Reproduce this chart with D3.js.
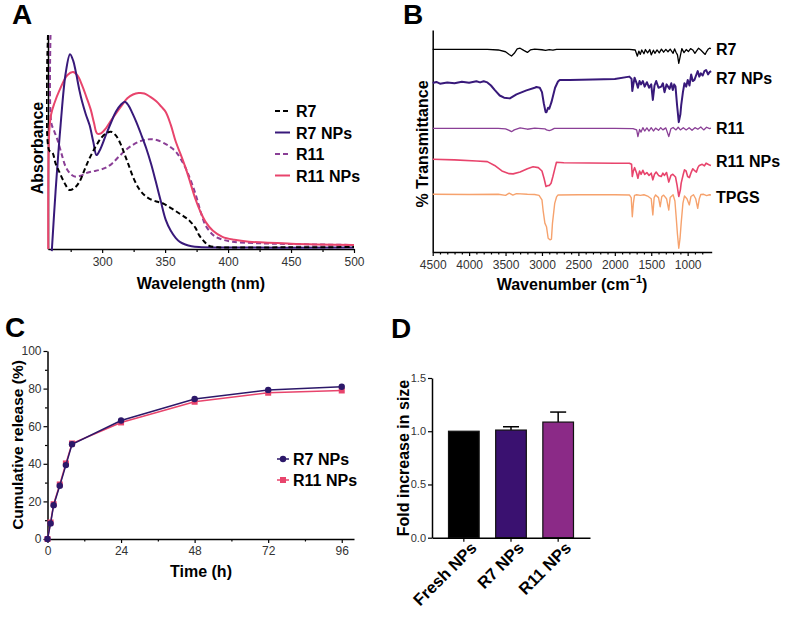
<!DOCTYPE html>
<html>
<head>
<meta charset="utf-8">
<script src="https://cdn.jsdelivr.net/npm/d3@7"></script>
<style>
  body { margin: 0; background: #fff; }
  svg { display: block; font-family: 'Liberation Sans', Arial, sans-serif; }
</style>
</head>
<body>
<div id="chart"></div>
<script>
"use strict"

// ---- A: UV-Vis absorbance, [wavelength nm, normalised absorbance]
var uvR7 = [[257,1.0],[258,0.46],[260.6,0.45],[263,0.40],[266,0.36],[270,0.31],[274,0.276],[278,0.285],
  [282,0.314],[286,0.37],[290,0.424],[295,0.48],[299,0.517],[303,0.54],[307,0.548],[311,0.53],[315,0.486],
  [318,0.44],[321,0.393],[325,0.33],[329,0.284],[333,0.255],[337,0.237],[343,0.222],[348,0.214],[355,0.19],
  [361,0.167],[366,0.148],[370,0.128],[374,0.1],[377,0.065],[381,0.035],[385,0.015],[392,0.008],[400,0.007],
  [450,0.008],[500,0.009]];
var uvR7NPs = [[260,-0.01],[263,0.268],[267,0.579],[271,0.82],[274.5,0.91],[277,0.88],[279,0.83],[282,0.74],
  [284,0.69],[287,0.63],[290,0.579],[293,0.5],[295.5,0.439],[298,0.46],[303,0.533],[307,0.59],[311,0.642],
  [315,0.675],[318,0.688],[321,0.67],[324,0.635],[327,0.595],[331,0.535],[335,0.471],[339,0.395],[342.6,0.315],
  [346.5,0.225],[350.5,0.136],[354.5,0.085],[358.5,0.051],[362,0.032],[366,0.021],[371,0.013],[377,0.009],
  [390,0.007],[500,0.007]];
var uvR11 = [[259,1.0],[259.6,0.59],[262,0.55],[264.6,0.509],[268,0.44],[271,0.385],[275,0.35],[279,0.338],
  [283,0.342],[287,0.354],[292,0.362],[297.6,0.369],[303,0.38],[308,0.4],[313,0.43],[318.8,0.463],[324,0.485],
  [329,0.501],[334,0.51],[338.6,0.513],[344,0.508],[350.5,0.49],[354.5,0.475],[358.5,0.455],[362.5,0.42],
  [366.4,0.377],[369,0.34],[371.7,0.299],[374.5,0.25],[377,0.198],[379.5,0.15],[382,0.112],[386,0.078],
  [390,0.057],[396,0.043],[403.5,0.034],[420,0.028],[450,0.023],[500,0.019]];
var uvR11NPs = [[257.2,0.0],[258,0.55],[259.5,0.63],[262,0.68],[266,0.74],[272.5,0.813],[277,0.827],
  [280.5,0.81],[284,0.766],[287.5,0.71],[291,0.65],[293.5,0.59],[296,0.54],[299,0.54],[303,0.564],[307,0.6],
  [311,0.634],[315.5,0.67],[320,0.704],[324.5,0.722],[329,0.729],[333.5,0.727],[338,0.712],[343,0.69],
  [347,0.665],[350.5,0.64],[354.5,0.58],[358.5,0.501],[362.5,0.44],[366.4,0.377],[370,0.31],[374,0.235],
  [378,0.175],[382,0.128],[388,0.085],[395.5,0.057],[405,0.043],[416.6,0.034],[450,0.025],[500,0.019]];
var uvNames = ["R7", "R7 NPs", "R11", "R11 NPs"];
var uvTicks = [300, 350, 400, 450, 500];

// ---- B: FTIR, [wavenumber cm-1, % transmittance (offset, a.u.)]
var ftirR7 = [[4500,91.3],[4000,91.3],[3750,91.3],[3600,91.0],[3500,90.2],[3450,89.0],[3418,88.3],[3380,89.5],
  [3340,91.5],[3300,91.8],[3250,90.8],[3200,89.9],[3160,91.0],[3100,91.4],[3000,91.1],[2950,90.8],[2900,91.2],
  [2850,90.9],[2800,91.3],[2000,91.3],[1800,91.3],[1720,91.0],[1690,88.2],[1670,90.5],[1650,89.0],[1630,91.0],
  [1600,89.3],[1580,91.2],[1550,89.7],[1520,91.2],[1500,88.8],[1470,90.9],[1450,89.5],[1420,91.0],[1390,89.7],
  [1360,91.4],[1330,90.0],[1300,91.3],[1270,90.2],[1240,91.4],[1200,89.5],[1180,91.5],[1160,90.0],[1140,88.8],
  [1122,85.0],[1100,88.5],[1080,91.6],[1050,89.8],[1020,91.2],[990,90.3],[960,91.6],[930,91.0],[900,89.5],
  [880,90.5],[850,91.8],[820,91.0],[790,90.0],[760,89.0],[740,90.3],[720,91.3],[700,91.8],[680,91.6]];
var ftirR7NPs = [[4500,76.1],[4450,76.6],[4400,75.8],[4300,76.4],[4200,76.0],[4100,76.7],[4000,76.2],
  [3900,76.9],[3850,76.4],[3800,76.9],[3750,76.4],[3700,75.0],[3650,73.0],[3580,70.5],[3520,69.5],[3441,69.2],
  [3350,71.0],[3213,72.8],[3100,74.0],[3076,74.3],[3030,74.0],[3000,72.0],[2975,67.0],[2950,63.0],[2938,63.0],
  [2915,65.0],[2900,64.5],[2870,67.5],[2850,70.0],[2820,74.0],[2780,76.8],[2756,77.5],[2619,77.5],[2300,77.7],
  [2000,77.9],[1800,79.0],[1770,78.0],[1760,72.5],[1745,75.5],[1729,78.5],[1700,76.0],[1683,74.0],[1660,77.0],
  [1640,75.5],[1615,77.0],[1590,74.5],[1560,76.5],[1530,74.0],[1500,75.5],[1478,68.5],[1455,75.0],[1432,77.0],
  [1400,74.0],[1363,74.5],[1340,76.0],[1318,72.0],[1290,75.5],[1249,73.5],[1225,76.0],[1204,73.0],[1185,75.5],
  [1167,74.5],[1145,66.0],[1122,58.5],[1100,62.0],[1089,66.0],[1065,72.0],[1044,76.0],[1020,74.5],[999,77.5],
  [975,75.0],[952,80.0],[930,77.0],[907,77.5],[885,79.5],[862,81.5],[840,79.0],[820,80.5],[793,79.5],
  [770,81.5],[747,82.0],[720,80.0],[700,81.0],[678,81.5]];
var ftirR11 = [[4500,55.7],[4000,55.7],[3600,55.7],[3500,55.5],[3450,54.8],[3418,54.2],[3380,55.0],[3300,55.9],
  [3200,55.3],[3100,55.8],[2960,55.5],[2938,55.0],[2900,54.7],[2870,55.0],[2830,55.7],[2000,55.7],[1750,55.6],
  [1700,55.0],[1683,52.0],[1660,55.2],[1640,54.0],[1615,56.0],[1590,54.5],[1560,55.9],[1530,54.5],[1500,56.0],
  [1470,54.5],[1440,55.8],[1400,54.8],[1370,56.0],[1340,55.0],[1300,55.9],[1259,52.0],[1230,55.5],[1200,56.1],
  [1160,55.0],[1130,56.2],[1100,55.0],[1060,56.0],[1020,55.0],[980,56.0],[940,54.8],[900,56.0],[860,55.3],
  [820,56.3],[780,55.0],[740,56.2],[700,55.6],[680,55.8]];
var ftirR11NPs = [[4500,41.8],[4200,41.5],[3900,41.0],[3750,40.7],[3650,39.0],[3550,36.5],[3450,35.3],
  [3396,35.2],[3300,36.0],[3200,37.5],[3122,38.4],[3050,38.0],[3000,36.5],[2970,33.0],[2945,29.5],[2920,29.9],
  [2900,30.0],[2875,31.0],[2850,34.0],[2820,38.0],[2801,40.4],[2700,40.2],[2000,40.0],[1800,40.0],[1770,39.5],
  [1760,34.0],[1745,36.5],[1729,38.0],[1700,35.5],[1683,33.2],[1660,36.5],[1640,35.0],[1615,36.8],[1590,35.0],
  [1560,35.8],[1530,34.5],[1500,35.5],[1478,32.5],[1455,35.0],[1432,36.0],[1400,34.5],[1363,34.0],[1340,35.5],
  [1318,34.5],[1290,35.8],[1259,31.5],[1230,34.5],[1204,35.0],[1167,33.8],[1145,30.0],[1122,25.0],[1100,28.0],
  [1089,31.0],[1060,35.0],[1044,37.0],[1022,36.5],[1000,34.0],[977,33.5],[950,36.0],[930,37.5],[900,36.5],
  [880,36.0],[860,38.0],[840,39.0],[800,39.5],[770,38.8],[747,40.0],[720,39.5],[700,39.2],[680,39.0]];
var ftirTPGS = [[4500,26.0],[4000,25.9],[3600,26.0],[3500,25.5],[3450,26.5],[3400,25.6],[3350,26.3],[3200,26.0],
  [3100,25.9],[3040,25.5],[3000,23.5],[2985,18.9],[2960,13.0],[2938,11.4],[2915,6.2],[2890,5.5],[2870,5.8],
  [2856,12.9],[2825,21.9],[2800,24.8],[2779,25.7],[2500,25.8],[2000,25.8],[1800,25.7],[1775,24.5],[1760,15.9],
  [1745,22.0],[1730,25.5],[1700,25.8],[1650,25.5],[1600,25.8],[1550,25.2],[1500,24.0],[1478,16.7],[1460,24.5],
  [1440,25.7],[1400,24.5],[1377,20.4],[1355,25.0],[1330,25.6],[1290,24.0],[1259,18.9],[1240,24.5],[1200,25.8],
  [1175,23.0],[1158,15.9],[1140,8.0],[1122,1.7],[1105,6.0],[1089,13.0],[1065,22.0],[1044,25.2],[1010,24.0],
  [977,21.2],[955,25.0],[920,25.8],[890,24.0],[862,19.7],[840,24.0],[820,25.9],[780,26.0],[740,25.4],
  [700,25.8],[680,25.7]];
var ftirNames = ["R7", "R7 NPs", "R11", "R11 NPs", "TPGS"];
var ftirTicks = [4500, 4000, 3500, 3000, 2500, 2000, 1500, 1000];

// ---- C: cumulative release
var releaseTime = [0, 1, 2, 4, 6, 8, 24, 48, 72, 96];
var releaseR7NPs = [0, 8.3, 18, 28.3, 39.3, 50.4, 63, 74.5, 79.3, 81];
var releaseR11NPs = [0, 8.8, 18.5, 29, 40.2, 50.8, 62, 73, 77.8, 79];
var releaseTimeTicks = [0, 24, 48, 72, 96];
var releaseYTicks = [0, 20, 40, 60, 80, 100];

// ---- D: fold increase in size
var sizeGroups = ["Fresh NPs", "R7 NPs", "R11 NPs"];
var sizeFold = [1.0, 1.011, 1.086];
var sizeErr = [0, 0.031, 0.094];
var sizeTicks = [0, 0.5, 1.0, 1.5];

var colR7 = "#000000", colR7NPs = "#38197a", colR11 = "#8a3f96", colR11NPs = "#e8446c", colTPGS = "#f6a26d";

var svg = d3.select("#chart").append("svg")
  .attr("width", 786)
  .attr("height", 618);

function styleAxis(g, size) {
  g.selectAll("path.domain").attr("stroke", "#000").attr("stroke-width", 1.5);
  g.selectAll(".tick line").attr("stroke", "#000").attr("stroke-width", 1.2);
  g.selectAll(".tick text")
    .style("font-family", "'Liberation Sans', Arial, sans-serif")
    .style("font-size", (size || 12) + "px")
    .attr("fill", "#333");
}

function boldText(x, y, txt, size, rotate, anchor) {
  var t = svg.append("text")
    .attr("transform", "translate(" + x + "," + y + ")" + (rotate ? " rotate(" + rotate + ")" : ""))
    .attr("text-anchor", anchor || "middle")
    .style("font-weight", "bold")
    .style("font-size", size + "px")
    .attr("fill", "#000")
    .text(txt);
  return t;
}

boldText(12, 24, "A", 28, 0, "start");
boldText(403, 24, "B", 28, 0, "start");
boldText(5, 337, "C", 28, 0, "start");
boldText(391, 338, "D", 28, 0, "start");

// ================= Panel A =================
(function () {
  var x = d3.scaleLinear().domain([257, 500]).range([48, 354]),
    y = d3.scaleLinear().domain([0, 1]).range([249, 35]);

  svg.append("clipPath").attr("id", "clipA")
    .append("rect").attr("x", 46).attr("y", 35).attr("width", 310).attr("height", 218);

  var gx = svg.append("g").attr("transform", "translate(0,249)")
    .call(d3.axisBottom(x).tickValues(uvTicks).tickSize(4).tickSizeOuter(0).tickPadding(4));
  styleAxis(gx);
  var gxm = svg.append("g").attr("transform", "translate(0,249)")
    .call(d3.axisBottom(x).tickValues(d3.range(275, 500, 50)).tickSize(3).tickFormat(""));
  gxm.select("path.domain").remove();
  styleAxis(gxm);

  var gy = svg.append("g").attr("transform", "translate(48,0)")
    .call(d3.axisLeft(y).tickValues([]).tickSizeOuter(0));
  styleAxis(gy);

  var line = d3.line()
    .x(function (d) { return x(d[0]); })
    .y(function (d) { return y(Math.min(d[1], 1.02)); })
    .curve(d3.curveCatmullRom.alpha(0.5));

  var series = [
    { data: uvR11, color: colR11, dash: "5,3" },
    { data: uvR11NPs, color: colR11NPs, dash: null },
    { data: uvR7NPs, color: colR7NPs, dash: null },
    { data: uvR7, color: colR7, dash: "5,3" }
  ];
  series.forEach(function (s) {
    svg.append("path")
      .attr("clip-path", "url(#clipA)")
      .attr("d", line(s.data))
      .attr("fill", "none")
      .attr("stroke", s.color)
      .attr("stroke-width", 2)
      .attr("stroke-dasharray", s.dash);
  });

  var legColors = [colR7, colR7NPs, colR11, colR11NPs],
    legDash = ["5,3", null, "5,3", null];
  uvNames.forEach(function (n, i) {
    var ly = 111 + i * 21.5;
    svg.append("line")
      .attr("x1", 275).attr("x2", 290).attr("y1", ly).attr("y2", ly)
      .attr("stroke", legColors[i]).attr("stroke-width", 2)
      .attr("stroke-dasharray", legDash[i]);
    boldText(296, ly + 6, n, 16, 0, "start");
  });

  boldText(201, 289, "Wavelength (nm)", 16);
  boldText(43, 148, "Absorbance", 16, -90);
})();

// ================= Panel B =================
(function () {
  var x = d3.scaleLinear().domain([4500, 670]).range([432.7, 711.7]),
    y = d3.scaleLinear().domain([0, 100]).range([252, 30]);

  var gx = svg.append("g").attr("transform", "translate(0,252)")
    .call(d3.axisBottom(x).tickValues(ftirTicks).tickSize(4).tickSizeOuter(0).tickPadding(4)
      .tickFormat(d3.format("d")));
  styleAxis(gx);
  var minor = d3.range(4400, 700, -100).filter(function (v) { return v % 500 !== 0; });
  var gxm = svg.append("g").attr("transform", "translate(0,252)")
    .call(d3.axisBottom(x).tickValues(minor).tickSize(2.5).tickFormat(""));
  gxm.select("path.domain").remove();
  styleAxis(gxm);

  var gy = svg.append("g").attr("transform", "translate(432.7,0)")
    .call(d3.axisLeft(y).tickValues([]).tickSizeOuter(0));
  styleAxis(gy);

  var line = d3.line()
    .x(function (d) { return x(d[0]); })
    .y(function (d) { return y(d[1]); });

  var traces = [ftirR7, ftirR7NPs, ftirR11, ftirR11NPs, ftirTPGS],
    colors = [colR7, colR7NPs, colR11, colR11NPs, colTPGS],
    widths = [1.3, 2, 1.3, 1.6, 1.4],
    labelDy = [6, 13, 5.5, 2, 8];

  traces.forEach(function (t, i) {
    svg.append("path")
      .attr("d", line(t))
      .attr("fill", "none")
      .attr("stroke", colors[i])
      .attr("stroke-width", widths[i])
      .attr("stroke-linejoin", "round");
    var last = t[t.length - 1];
    boldText(716, y(last[1]) + labelDy[i], ftirNames[i], 16, 0, "start");
  });

  var title = boldText(572, 290, "Wavenumber (cm", 16);
  title.append("tspan").attr("dy", -7).style("font-size", "11px").text("\u22121");
  title.append("tspan").attr("dy", 7).text(")");
  boldText(428, 144, "% Transmittance", 16, -90);
})();

// ================= Panel C =================
(function () {
  var x = d3.scaleLinear().domain([0, 100]).range([47.5, 354]),
    y = d3.scaleLinear().domain([0, 100]).range([539, 351]);

  var gx = svg.append("g").attr("transform", "translate(0,539)")
    .call(d3.axisBottom(x).tickValues(releaseTimeTicks).tickSize(4).tickSizeOuter(0).tickPadding(3));
  styleAxis(gx);
  var gxm = svg.append("g").attr("transform", "translate(0,539)")
    .call(d3.axisBottom(x).tickValues([12, 36, 60, 84]).tickSize(2.5).tickFormat(""));
  gxm.select("path.domain").remove();
  styleAxis(gxm);

  var gy = svg.append("g").attr("transform", "translate(47.5,0)")
    .call(d3.axisLeft(y).tickValues(releaseYTicks).tickSize(4).tickSizeOuter(0).tickPadding(2));
  styleAxis(gy);
  var gym = svg.append("g").attr("transform", "translate(47.5,0)")
    .call(d3.axisLeft(y).tickValues([10, 30, 50, 70, 90]).tickSize(2.5).tickFormat(""));
  gym.select("path.domain").remove();
  styleAxis(gym);

  var line = d3.line()
    .x(function (d, i) { return x(releaseTime[i]); })
    .y(function (d) { return y(d); });

  svg.append("path").attr("d", line(releaseR11NPs))
    .attr("fill", "none").attr("stroke", colR11NPs).attr("stroke-width", 1.5);
  svg.selectAll(".sqR11").data(releaseR11NPs).enter().append("rect")
    .attr("x", function (d, i) { return x(releaseTime[i]) - 3; })
    .attr("y", function (d) { return y(d) - 3; })
    .attr("width", 6).attr("height", 6)
    .attr("fill", colR11NPs);

  svg.append("path").attr("d", line(releaseR7NPs))
    .attr("fill", "none").attr("stroke", "#2c1869").attr("stroke-width", 1.5);
  svg.selectAll(".dotR7").data(releaseR7NPs).enter().append("circle")
    .attr("cx", function (d, i) { return x(releaseTime[i]); })
    .attr("cy", function (d) { return y(d); })
    .attr("r", 3.2)
    .attr("fill", "#2c1869");

  // legend
  svg.append("line").attr("x1", 277).attr("x2", 289).attr("y1", 459).attr("y2", 459)
    .attr("stroke", "#2c1869").attr("stroke-width", 1.5);
  svg.append("circle").attr("cx", 283).attr("cy", 459).attr("r", 3.2).attr("fill", "#2c1869");
  boldText(293, 465, "R7 NPs", 16, 0, "start");
  svg.append("line").attr("x1", 277).attr("x2", 289).attr("y1", 480).attr("y2", 480)
    .attr("stroke", colR11NPs).attr("stroke-width", 1.5);
  svg.append("rect").attr("x", 280).attr("y", 477).attr("width", 6).attr("height", 6).attr("fill", colR11NPs);
  boldText(293, 486, "R11 NPs", 16, 0, "start");

  boldText(201, 577, "Time (h)", 16);
  boldText(23, 445, "Cumulative release (%)", 15.5, -90);
})();

// ================= Panel D =================
(function () {
  var x = d3.scaleBand().domain(sizeGroups).range([432, 590]).paddingInner(0.35).paddingOuter(0.35),
    y = d3.scaleLinear().domain([0, 1.5]).range([537.7, 378]);
  var barColors = ["#000000", "#3a1170", "#8b2a87"];

  sizeGroups.forEach(function (g, i) {
    var cx = x(g) + x.bandwidth() / 2;
    if (sizeErr[i] > 0) {
      svg.append("line")
        .attr("x1", cx).attr("x2", cx)
        .attr("y1", y(sizeFold[i])).attr("y2", y(sizeFold[i] + sizeErr[i]))
        .attr("stroke", "#000").attr("stroke-width", 1.5);
      svg.append("line")
        .attr("x1", cx - 8).attr("x2", cx + 8)
        .attr("y1", y(sizeFold[i] + sizeErr[i])).attr("y2", y(sizeFold[i] + sizeErr[i]))
        .attr("stroke", "#000").attr("stroke-width", 1.5);
    }
    svg.append("rect")
      .attr("x", x(g))
      .attr("y", y(sizeFold[i]))
      .attr("width", x.bandwidth())
      .attr("height", y(0) - y(sizeFold[i]))
      .attr("fill", barColors[i])
      .attr("stroke", "#111")
      .attr("stroke-width", 1.2);
  });

  var gx = svg.append("g").attr("transform", "translate(0,537.7)")
    .call(d3.axisBottom(x).tickSize(4).tickSizeOuter(0).tickFormat(""));
  styleAxis(gx);
  sizeGroups.forEach(function (g) {
    var cx = x(g) + x.bandwidth() / 2;
    boldText(cx + 14, 549, g, 16.5, -45, "end");
  });

  var gy = svg.append("g").attr("transform", "translate(432,0)")
    .call(d3.axisLeft(y).tickValues(sizeTicks).tickSize(4).tickSizeOuter(0).tickPadding(2)
      .tickFormat(d3.format(".1f")));
  styleAxis(gy, 11);

  boldText(409, 458, "Fold increase in size", 16, -90);
})();
</script>
</body>
</html>
